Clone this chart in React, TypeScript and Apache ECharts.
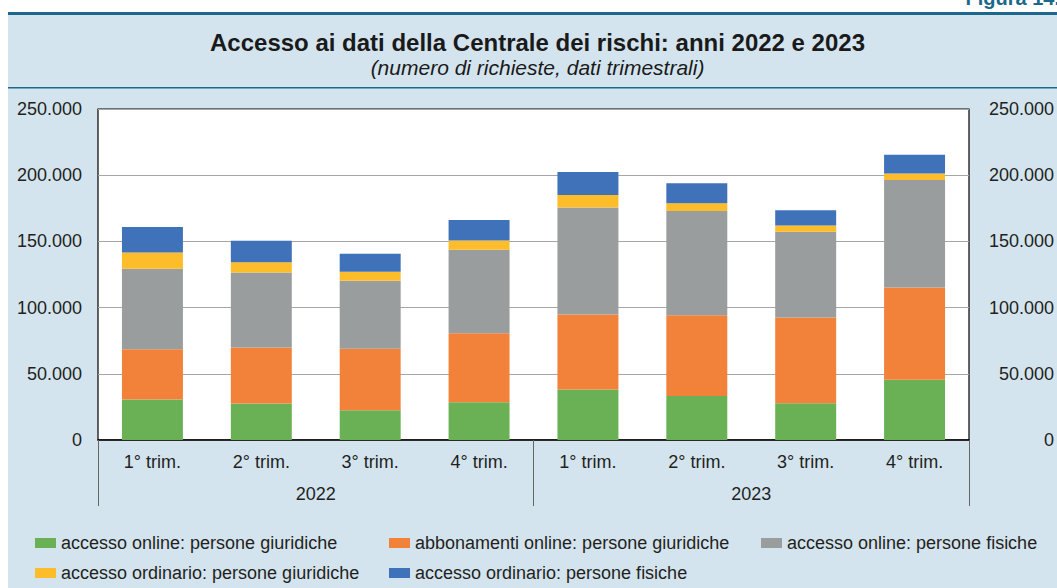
import React, { useEffect, useRef } from "react";
import * as echarts from "echarts";

const quarters = ["1° trim.", "2° trim.", "3° trim.", "4° trim.", "1° trim.", "2° trim.", "3° trim.", "4° trim."];
const years = ["2022", "2023"];

const onlineGiuridiche = [30500, 27500, 22400, 28500, 38100, 33300, 27700, 45600];
const abbonamentiGiuridiche = [38000, 42300, 46600, 52100, 56700, 60900, 64800, 69600];
const onlineFisiche = [60800, 56700, 51200, 63000, 80800, 78700, 64700, 81100];
const ordinarioGiuridiche = [12300, 7800, 6800, 7100, 9400, 6000, 4800, 5000];
const ordinarioFisiche = [19200, 16100, 13600, 15400, 17400, 15100, 11600, 14200];

const seriesNames = [
  "accesso online: persone giuridiche",
  "abbonamenti online: persone giuridiche",
  "accesso online: persone fisiche",
  "accesso ordinario: persone giuridiche",
  "accesso ordinario: persone fisiche",
];
const seriesColors = ["#6ab155", "#f2823a", "#9a9d9d", "#fdbd2a", "#3f72b9"];
const seriesData = [onlineGiuridiche, abbonamentiGiuridiche, onlineFisiche, ordinarioGiuridiche, ordinarioFisiche];

const FONT = "'Liberation Sans', Arial, Helvetica, sans-serif";
const TEAL = "#1b688a";
const BG = "#d3e4ee";
const TXT = "#231f20";

const fmt = (v: number) => String(v).replace(/\B(?=(\d{3})+(?!\d))/g, ".");

const legendPos = [
  { left: 35, top: 533 },
  { left: 389, top: 533 },
  { left: 761, top: 533 },
  { left: 35, top: 563 },
  { left: 389, top: 563 },
];

export default function App() {
  const ref = useRef<HTMLDivElement>(null);
  useEffect(() => {
    if (!ref.current) return;
    const chart = echarts.init(ref.current, undefined, { renderer: "svg" });
    const yAxisCommon = {
      type: "value",
      min: 0,
      max: 250000,
      interval: 50000,
      axisLine: { show: false },
      axisTick: { show: false },
      axisLabel: { color: TXT, fontSize: 18, fontFamily: FONT, formatter: fmt, margin: 16 },
    };
    chart.setOption({
      animation: false,
      textStyle: { fontFamily: FONT },
      graphic: [
        { type: "rect", z: -10, shape: { x: 8, y: 12, width: 1049, height: 3 }, style: { fill: TEAL } },
        { type: "rect", z: -10, shape: { x: 8, y: 87, width: 1049, height: 1.5 }, style: { fill: TEAL } },
        {
          type: "text",
          x: 1060,
          y: 8,
          style: {
            text: "Figura 14.",
            fill: TEAL,
            font: `bold 20px ${FONT}`,
            textAlign: "right",
            textVerticalAlign: "bottom",
          },
        },
        {
          type: "text",
          x: 537.5,
          y: 42,
          style: {
            text: "Accesso ai dati della Centrale dei rischi: anni 2022 e 2023",
            fill: "#1a1a1a",
            font: `bold 24px ${FONT}`,
            textAlign: "center",
            textVerticalAlign: "middle",
          },
        },
        {
          type: "text",
          x: 537.5,
          y: 67,
          style: {
            text: "(numero di richieste, dati trimestrali)",
            fill: "#1a1a1a",
            font: `italic 21px ${FONT}`,
            textAlign: "center",
            textVerticalAlign: "middle",
          },
        },
      ],
      grid: {
        left: 98,
        right: 84,
        top: 109,
        bottom: 148,
        show: true,
        backgroundColor: "#ffffff",
        borderColor: "#000000",
        borderWidth: 1.2,
      },
      legend: seriesNames.map((n, i) => ({
        data: [n],
        left: legendPos[i].left,
        top: legendPos[i].top,
        padding: 0,
        icon: "rect",
        itemWidth: 21,
        itemHeight: 10,
        selectedMode: false,
        textStyle: { color: TXT, fontSize: 18, fontFamily: FONT, lineHeight: 20 },
      })),
      xAxis: [
        {
          type: "category",
          data: quarters,
          position: "bottom",
          axisLine: { show: true, lineStyle: { color: "#000", width: 1.5 } },
          axisTick: { show: false },
          axisLabel: { color: TXT, fontSize: 18, fontFamily: FONT, margin: 13, interval: 0 },
        },
        {
          type: "category",
          data: years,
          position: "bottom",
          axisLine: { show: false },
          axisTick: { show: true, interval: 0, length: 66, lineStyle: { color: "#666", width: 1 } },
          axisLabel: { color: TXT, fontSize: 18, fontFamily: FONT, margin: 45, interval: 0 },
          splitLine: { show: false },
        },
      ],
      yAxis: [
        { ...yAxisCommon, position: "left", splitLine: { show: true, lineStyle: { color: "#a6a6a6", width: 1 } } },
        {
          ...yAxisCommon,
          position: "right",
          splitLine: { show: false },
          axisLabel: { ...yAxisCommon.axisLabel, margin: 85, align: "right" },
        },
      ],
      series: seriesNames.map((n, i) => ({
        name: n,
        type: "bar",
        stack: "total",
        xAxisIndex: 0,
        yAxisIndex: 0,
        barWidth: "56%",
        data: seriesData[i],
        itemStyle: { color: seriesColors[i] },
      })),
    });
    return () => chart.dispose();
  }, []);
  return (
    <div style={{ position: "absolute", left: 0, top: 0, width: 1057, height: 588, background: "#fff" }}>
      <div style={{ position: "absolute", left: 8, top: 14, width: 1049, height: 574, background: BG }} />
      <div ref={ref} style={{ position: "absolute", left: 0, top: 0, width: 1057, height: 588 }} />
    </div>
  );
}
